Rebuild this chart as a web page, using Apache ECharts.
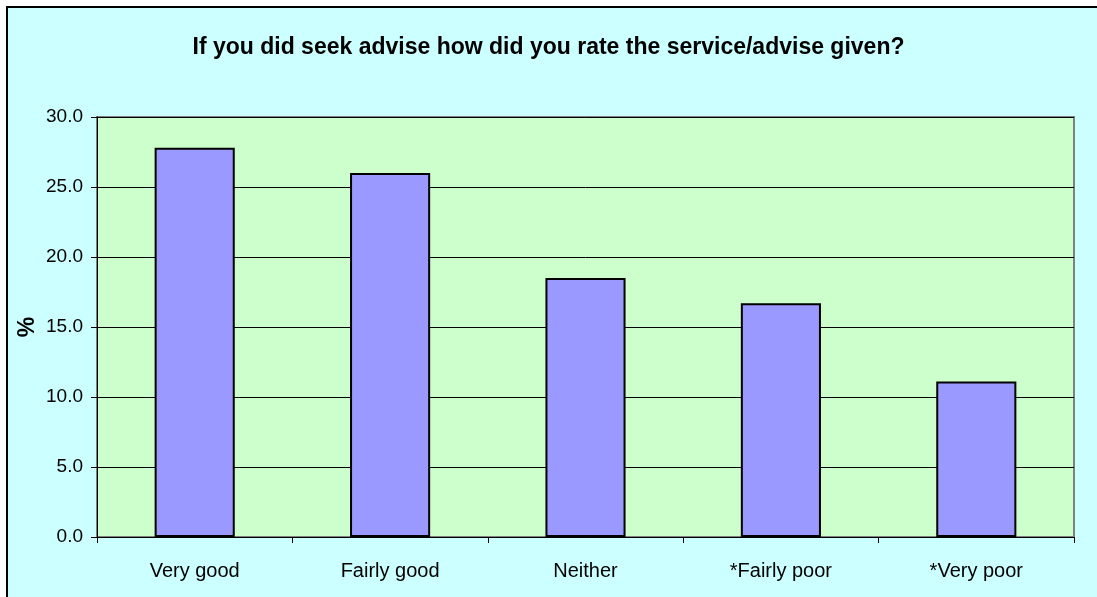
<!DOCTYPE html>
<html>
<head>
<meta charset="utf-8">
<script src="https://cdn.jsdelivr.net/npm/echarts@6/dist/echarts.min.js"></script>
<style>
  html, body { margin: 0; padding: 0; background: #fff; }
  #chart { width: 1097px; height: 597px; }
</style>
</head>
<body>
<div id="chart"></div>
<script>
// ratings and share of respondents (%)
const categories = ["Very good", "Fairly good", "Neither", "*Fairly poor", "*Very poor"];
const percentages = [27.8, 26.0, 18.5, 16.7, 11.1];

const titleText = "If you did seek advise how did you rate the service/advise given?";
const fontFamily = "'Liberation Sans', Arial, sans-serif";

const chart = echarts.init(document.getElementById("chart"));

const option = {
  backgroundColor: "#ffffff",
  animation: false,
  graphic: [
    {
      type: "rect",
      z: -10,
      silent: true,
      shape: { x: 7, y: 7, width: 1200, height: 700 },
      style: { fill: "#CCFFFF", stroke: "#000000", lineWidth: 2 }
    }
  ],
  title: {
    text: titleText,
    left: "center",
    top: 31,
    textStyle: { fontFamily: fontFamily, fontSize: 23, fontWeight: "bold", color: "#000" }
  },
  grid: {
    left: 97,
    right: 23,
    top: 117,
    bottom: 60,
    show: true,
    backgroundColor: "#CCFFCC",
    borderColor: "#808080",
    borderWidth: 2
  },
  xAxis: {
    type: "category",
    data: categories,
    axisLine: { lineStyle: { color: "#000", width: 1 } },
    axisTick: { show: true, length: 6, alignWithLabel: false, lineStyle: { color: "#000" } },
    axisLabel: { fontFamily: fontFamily, fontSize: 20, color: "#000", margin: 24 }
  },
  yAxis: {
    type: "value",
    min: 0,
    max: 30,
    interval: 5,
    name: "%",
    nameLocation: "middle",
    nameGap: 58,
    nameMoveOverlap: false,
    nameTextStyle: { fontFamily: fontFamily, fontSize: 23, fontWeight: "bold", color: "#000" },
    axisLine: { show: true, lineStyle: { color: "#000", width: 1 } },
    axisTick: { show: true, length: 6, lineStyle: { color: "#000" } },
    axisLabel: {
      fontFamily: fontFamily,
      fontSize: 19,
      color: "#000",
      margin: 14,
      formatter: v => v.toFixed(1)
    },
    splitLine: { show: true, lineStyle: { color: "#000", width: 1 } }
  },
  series: [
    {
      type: "bar",
      data: percentages,
      barWidth: "41%",
      itemStyle: { color: "#9999FF", borderColor: "#000", borderWidth: 2 }
    }
  ]
};

chart.setOption(option, true);

window.addEventListener("resize", () => {
  if (chart) {
    chart.resize();
  }
});
</script>
</body>
</html>
